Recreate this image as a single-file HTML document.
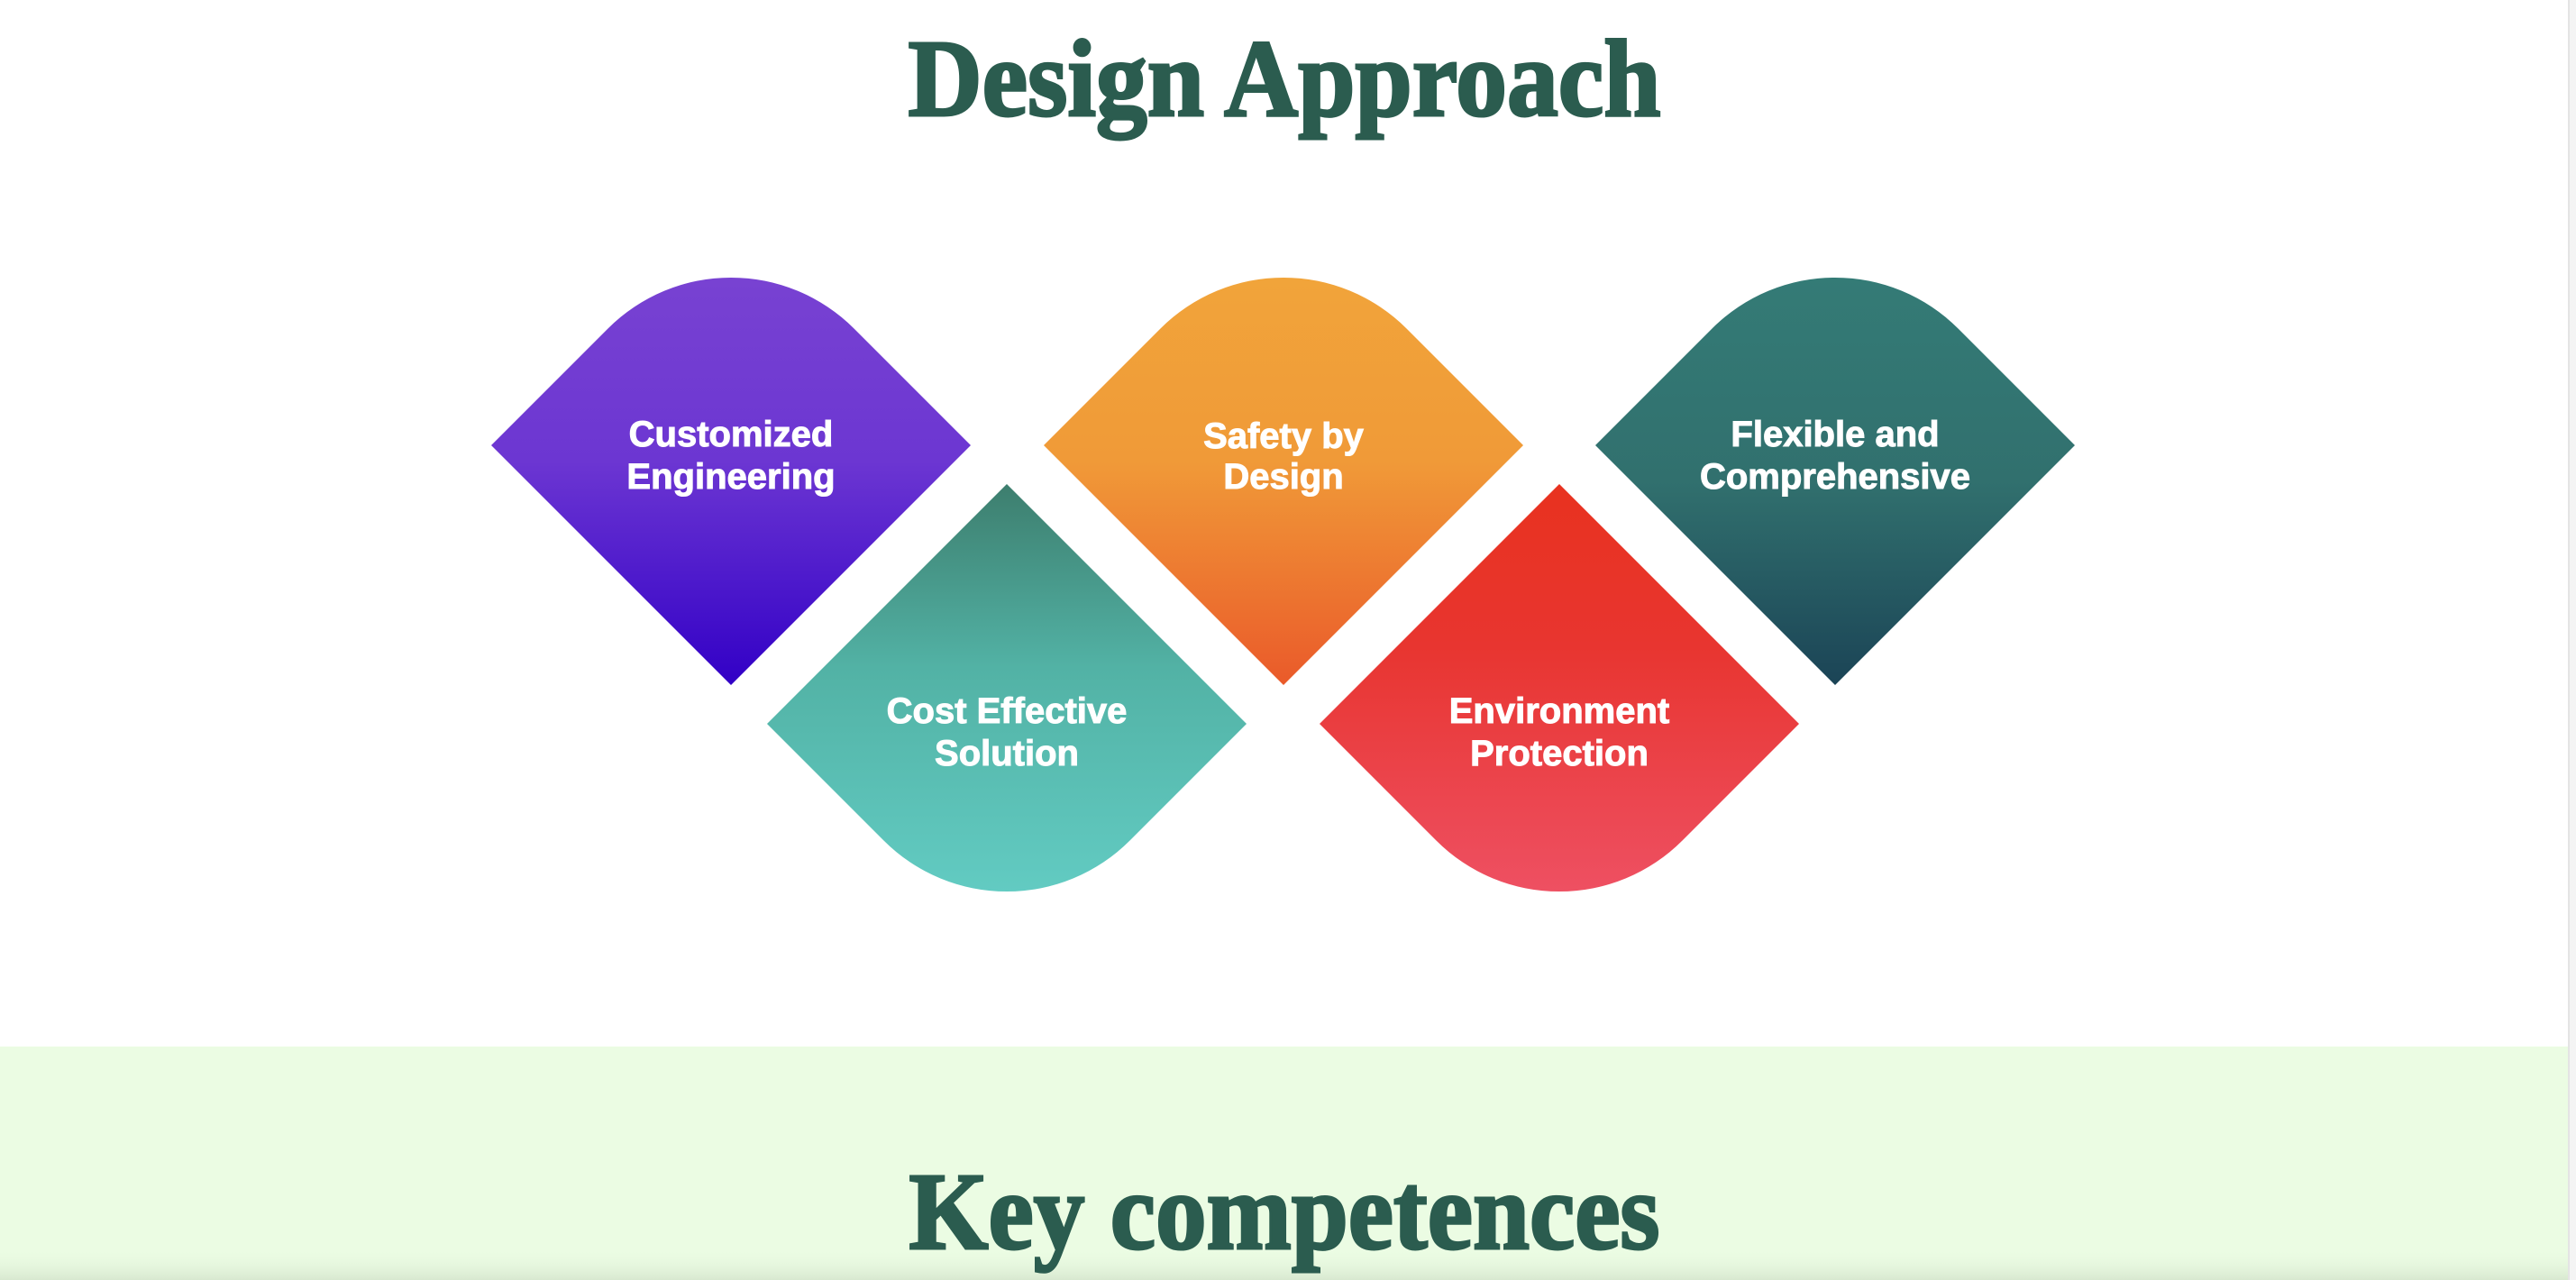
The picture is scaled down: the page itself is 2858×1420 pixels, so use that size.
<!DOCTYPE html>
<html><head><meta charset="utf-8"><style>
html,body{margin:0;padding:0;background:#fff;}
body{width:2858px;height:1420px;overflow:hidden;position:relative;}
svg{position:absolute;left:0;top:0;}
</style></head><body>
<svg width="2858" height="1420" viewBox="0 0 2858 1420" xmlns="http://www.w3.org/2000/svg">
<defs>
<linearGradient id="g1" x1="0" y1="0" x2="0" y2="1"><stop offset="0" stop-color="#7842d2"/><stop offset="0.45" stop-color="#6c36d2"/><stop offset="1" stop-color="#3200c6"/></linearGradient>
<linearGradient id="g2" x1="0" y1="0" x2="0" y2="1"><stop offset="0" stop-color="#3d7e6e"/><stop offset="0.45" stop-color="#52b2a5"/><stop offset="1" stop-color="#62cbc2"/></linearGradient>
<linearGradient id="g3" x1="0" y1="0" x2="0" y2="1"><stop offset="0" stop-color="#f1a43a"/><stop offset="0.45" stop-color="#f09a38"/><stop offset="1" stop-color="#ea5a2a"/></linearGradient>
<linearGradient id="g4" x1="0" y1="0" x2="0" y2="1"><stop offset="0" stop-color="#e8321f"/><stop offset="0.4" stop-color="#e83530"/><stop offset="1" stop-color="#ee5062"/></linearGradient>
<linearGradient id="g5" x1="0" y1="0" x2="0" y2="1"><stop offset="0" stop-color="#347b76"/><stop offset="0.5" stop-color="#31706e"/><stop offset="1" stop-color="#1b4456"/></linearGradient>
<linearGradient id="sh" x1="0" y1="0" x2="0" y2="1"><stop offset="0" stop-color="#ebfce3" stop-opacity="0"/><stop offset="1" stop-color="#d8e8d0"/></linearGradient>
</defs>
<rect x="0" y="1161" width="2849" height="259" fill="#ebfce3"/>
<rect x="0" y="1385" width="2849" height="35" fill="url(#sh)"/>
<rect x="2849" y="0" width="9" height="1420" fill="#f4f4f4"/>
<rect x="2849" y="0" width="2" height="1420" fill="#e4e4e4"/>

<g font-family="Liberation Serif, serif" font-weight="bold" font-size="122" fill="#2b5c4f" stroke="#2b5c4f" stroke-width="3" text-anchor="middle">
<text x="1425" y="128" textLength="835" lengthAdjust="spacingAndGlyphs">Design Approach</text>
<text x="1425" y="1385" textLength="833" lengthAdjust="spacingAndGlyphs">Key competences</text>
</g>

<path d="M545 494 L811 760 L1077 494 L947.5 364.5 A193 193 0 0 0 674.5 364.5 Z" fill="url(#g1)"/>
<path d="M1158 494 L1424 760 L1690 494 L1560.5 364.5 A193 193 0 0 0 1287.5 364.5 Z" fill="url(#g3)"/>
<path d="M1770 494 L2036 760 L2302 494 L2172.5 364.5 A193 193 0 0 0 1899.5 364.5 Z" fill="url(#g5)"/>
<path d="M851 803 L1117 537 L1383 803 L1253.5 932.5 A193 193 0 0 1 980.5 932.5 Z" fill="url(#g2)"/>
<path d="M1464 803 L1730 537 L1996 803 L1866.5 932.5 A193 193 0 0 1 1593.5 932.5 Z" fill="url(#g4)"/>

<g font-family="Liberation Sans, sans-serif" font-weight="bold" font-size="40" fill="#fff" stroke="#fff" stroke-width="1" text-anchor="middle">
<text x="811" y="495">Customized</text><text x="811" y="542">Engineering</text>
<text x="1424" y="497">Safety by</text><text x="1424" y="542">Design</text>
<text x="2036" y="495">Flexible and</text><text x="2036" y="542">Comprehensive</text>
<text x="1117" y="802">Cost Effective</text><text x="1117" y="849">Solution</text>
<text x="1730" y="802">Environment</text><text x="1730" y="849">Protection</text>
</g>
</svg>
</body></html>
